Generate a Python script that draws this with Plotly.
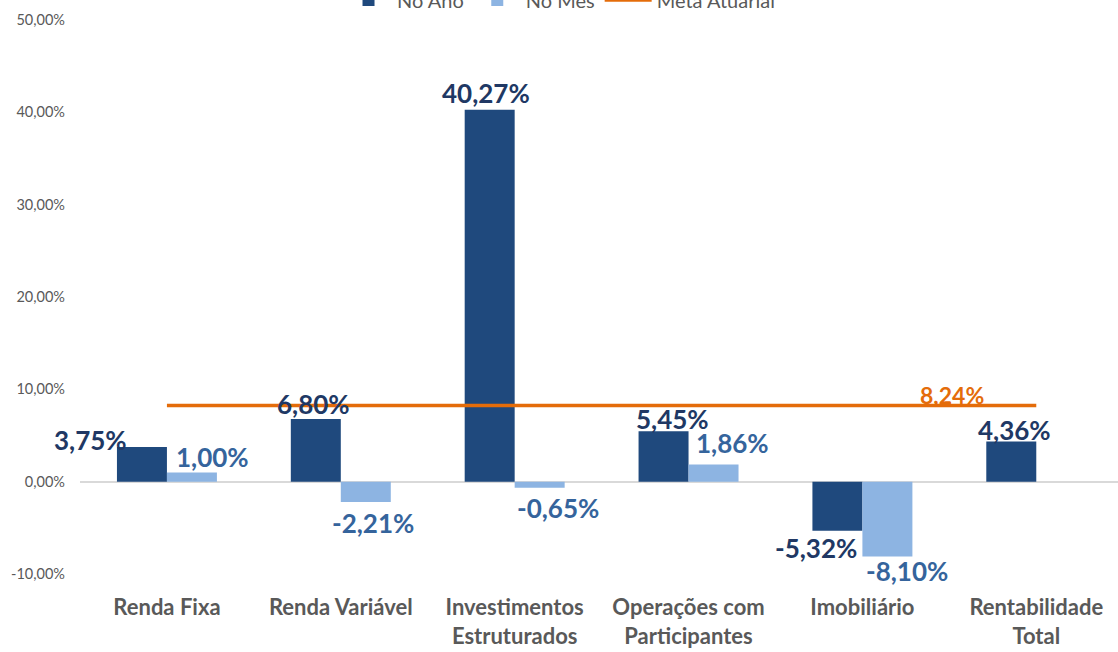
import plotly.graph_objects as go

categories = ["Renda Fixa", "Renda Variável", "Investimentos<br>Estruturados",
              "Operações com<br>Participantes", "Imobiliário", "Rentabilidade<br>Total"]
no_ano = [3.75, 6.80, 40.27, 5.45, -5.32, 4.36]
no_mes = [1.00, -2.21, -0.65, 1.86, -8.10, None]
meta_atuarial = 8.24
y_ticks = [-10, 0, 10, 20, 30, 40, 50]

DARK = "#1F497D"
LIGHT = "#8DB4E2"
DARK_LBL = "#203864"
LIGHT_LBL = "#35649C"
ORANGE = "#E46C0A"
GRAY = "#595959"
FONT = "Lato"

def fmt(v):
    return f"{v:.2f}".replace(".", ",") + "%"

fig = go.Figure()
fig.add_trace(go.Bar(name="No Ano", x=categories, y=no_ano, marker_color=DARK,
                     marker_line_width=0))
fig.add_trace(go.Bar(name="No Mês", x=categories, y=no_mes, marker_color=LIGHT,
                     marker_line_width=0))
fig.add_trace(go.Scatter(name="Meta Atuarial", x=[categories[0], categories[-1]],
                         y=[meta_atuarial, meta_atuarial], mode="lines",
                         line=dict(color=ORANGE, width=3.5)))

# label offsets (px) for dark / light series labels
dark_shift = [(-76, 7), (-27, 15), (-29, 17), (-16, 12), (-46, -17), (-22, 11)]
light_shift = [(46, 15), (32, -21), (43, -20), (44, 21), (45, -15), None]

anns = []
for i, c in enumerate(categories):
    v = no_ano[i]
    dx, dy = dark_shift[i]
    anns.append(dict(x=c, y=v, text=fmt(v), showarrow=False, xshift=dx, yshift=dy,
                     yanchor="middle", font=dict(family=FONT, size=26, color=DARK_LBL,
                                                 weight="bold")))
    m = no_mes[i]
    if m is not None:
        dx, dy = light_shift[i]
        anns.append(dict(x=c, y=m, text=fmt(m), showarrow=False, xshift=dx, yshift=dy,
                         yanchor="middle", font=dict(family=FONT, size=26, color=LIGHT_LBL,
                                                     weight="bold")))
anns.append(dict(x=categories[-1], y=meta_atuarial, text=fmt(meta_atuarial), showarrow=False,
                 xshift=-84, yshift=11, yanchor="middle",
                 font=dict(family=FONT, size=23, color=ORANGE, weight="bold")))

fig.update_layout(
    width=1118, height=652,
    margin=dict(l=80, r=0, t=20, b=78, autoexpand=False),
    paper_bgcolor="white", plot_bgcolor="white",
    barmode="group", bargap=0.425, bargroupgap=0,
    separators=",.",
    annotations=anns,
    showlegend=True,
    legend=dict(orientation="h", x=0.2505, xanchor="left", y=1.036, yanchor="middle",
                font=dict(family=FONT, size=20, color=GRAY), bgcolor="rgba(0,0,0,0)",
                itemwidth=47),
    xaxis=dict(range=[-0.5, 5.47], showgrid=False, showline=False, ticks="",
               ticklabelstandoff=18,
               tickfont=dict(family=FONT, size=22, color=GRAY, weight="bold")),
    yaxis=dict(range=[-10, 50], tickvals=y_ticks, ticktext=[fmt(t) for t in y_ticks],
               showgrid=False, zeroline=True, zerolinecolor="#D9D9D9", zerolinewidth=1.5,
               showline=False, ticks="", ticklabelstandoff=14,
               tickfont=dict(family=FONT, size=14.5, color=GRAY)),
)

fig.write_html("out.html", config={"displayModeBar": False},
               post_script="document.body.style.margin='0';")
